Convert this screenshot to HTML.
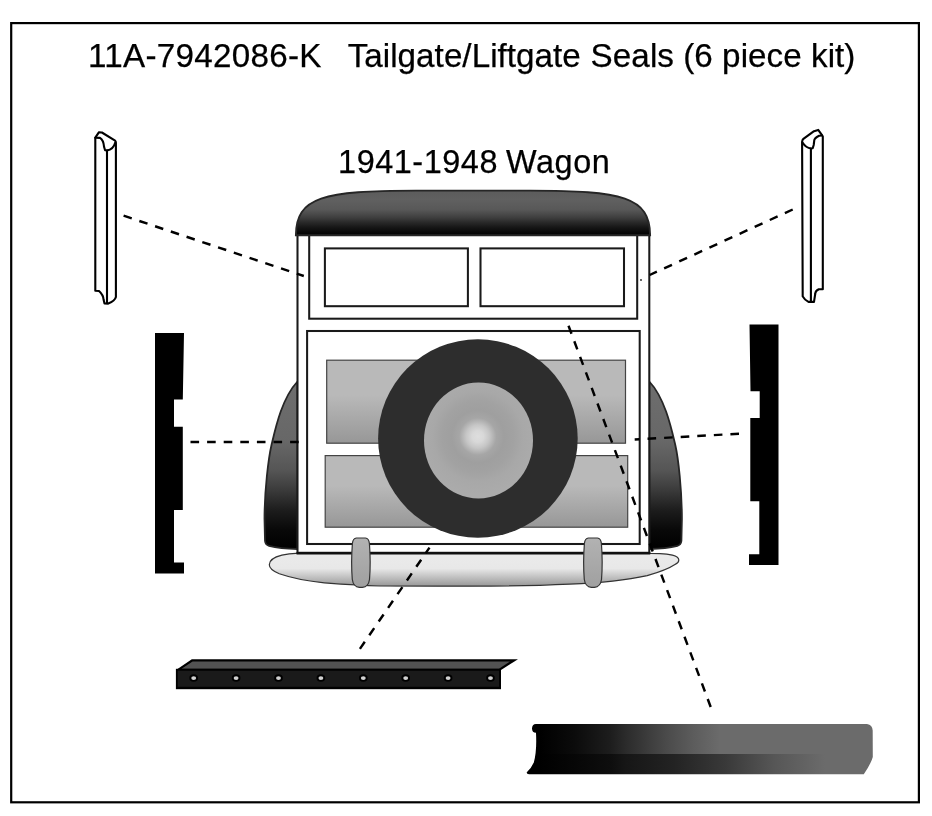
<!DOCTYPE html>
<html>
<head>
<meta charset="utf-8">
<title>11A-7942086-K Tailgate/Liftgate Seals (6 piece kit)</title>
<style>
html,body{margin:0;padding:0;background:#fff;}
body{width:932px;height:816px;overflow:hidden;}
svg{display:block;will-change:transform;}
text{font-family:"Liberation Sans",Arial,Helvetica,sans-serif;fill:#000;stroke:#000;stroke-width:0.25px;}
</style>
</head>
<body>
<svg width="932" height="816" viewBox="0 0 932 816">
<defs>
  <linearGradient id="gRoof" gradientUnits="userSpaceOnUse" x1="0" y1="190" x2="0" y2="236">
    <stop offset="0" stop-color="#5c5c5c"/>
    <stop offset="0.22" stop-color="#606060"/>
    <stop offset="0.43" stop-color="#585858"/>
    <stop offset="0.6" stop-color="#3e3e3e"/>
    <stop offset="0.7" stop-color="#2a2a2a"/>
    <stop offset="0.82" stop-color="#151515"/>
    <stop offset="0.92" stop-color="#080808"/>
    <stop offset="1" stop-color="#000"/>
  </linearGradient>
  <linearGradient id="gPanel" x1="0" y1="0" x2="0" y2="1">
    <stop offset="0" stop-color="#b9b9b9"/>
    <stop offset="0.42" stop-color="#b9b9b9"/>
    <stop offset="1" stop-color="#979797"/>
  </linearGradient>
  <linearGradient id="gFender" gradientUnits="userSpaceOnUse" x1="0" y1="382" x2="0" y2="549">
    <stop offset="0" stop-color="#6e6e6e"/>
    <stop offset="0.36" stop-color="#676767"/>
    <stop offset="0.53" stop-color="#555"/>
    <stop offset="0.65" stop-color="#3a3a3a"/>
    <stop offset="0.77" stop-color="#1c1c1c"/>
    <stop offset="0.89" stop-color="#080808"/>
    <stop offset="1" stop-color="#000"/>
  </linearGradient>
  <linearGradient id="gBumper" gradientUnits="userSpaceOnUse" x1="0" y1="553" x2="0" y2="586">
    <stop offset="0" stop-color="#ebebeb"/>
    <stop offset="0.47" stop-color="#e8e8e8"/>
    <stop offset="1" stop-color="#999"/>
  </linearGradient>
  <linearGradient id="gGuard" x1="0" y1="0" x2="0" y2="1">
    <stop offset="0" stop-color="#b2b2b2"/>
    <stop offset="1" stop-color="#a0a0a0"/>
  </linearGradient>
  <radialGradient id="gHub" gradientUnits="userSpaceOnUse" cx="477.8" cy="436.5" r="58">
    <stop offset="0" stop-color="#dedede"/>
    <stop offset="0.1" stop-color="#d8d8d8"/>
    <stop offset="0.2" stop-color="#c6c6c6"/>
    <stop offset="0.32" stop-color="#a6a6a6"/>
    <stop offset="0.45" stop-color="#9f9f9f"/>
    <stop offset="0.62" stop-color="#a2a2a2"/>
    <stop offset="0.78" stop-color="#a8a8a8"/>
    <stop offset="1" stop-color="#ababab"/>
  </radialGradient>
  <linearGradient id="gStripTop" gradientUnits="userSpaceOnUse" x1="540" y1="0" x2="720" y2="0">
    <stop offset="0" stop-color="#000"/>
    <stop offset="0.19" stop-color="#0b0b0b"/>
    <stop offset="0.39" stop-color="#1d1d1d"/>
    <stop offset="0.47" stop-color="#2a2a2a"/>
    <stop offset="0.7" stop-color="#4a4a4a"/>
    <stop offset="0.85" stop-color="#5c5c5c"/>
    <stop offset="1" stop-color="#6b6b6b"/>
  </linearGradient>
  <linearGradient id="gStripBot" gradientUnits="userSpaceOnUse" x1="540" y1="0" x2="825" y2="0">
    <stop offset="0" stop-color="#000"/>
    <stop offset="0.25" stop-color="#0e0e0e"/>
    <stop offset="0.3" stop-color="#161616"/>
    <stop offset="0.47" stop-color="#232323"/>
    <stop offset="0.65" stop-color="#393939"/>
    <stop offset="0.82" stop-color="#565656"/>
    <stop offset="1" stop-color="#6b6b6b"/>
  </linearGradient>
</defs>

<rect x="0" y="0" width="932" height="816" fill="#fff"/>

<!-- frame -->
<rect id="frame" x="11.2" y="23.1" width="907.7" height="779.2" fill="none" stroke="#000" stroke-width="2.2"/>

<!-- headings -->
<text id="title" y="66.6" font-size="33.2"><tspan x="87.99" style="letter-spacing:0.284px">11A-7942086-K</tspan> <tspan x="347.68" style="letter-spacing:0.039px">Tailgate/Liftgate</tspan> <tspan x="590.54" style="letter-spacing:0.105px">Seals</tspan> <tspan x="683.23" style="letter-spacing:0.055px">(6 piece kit)</tspan></text>
<text id="subtitle" y="172.8" font-size="32.4"><tspan x="338.11" style="letter-spacing:0.551px">1941-1948</tspan> <tspan x="506.03" style="letter-spacing:0.594px">Wagon</tspan></text>

<!-- fenders -->
<path id="fenderL" d="M297.5 381.5 C282 398 275.5 428 271.5 445 C268.5 458 264.5 490 264.5 519 L265 541 Q265.5 545 269 545.8 Q280 548.6 297.5 549 Z" fill="url(#gFender)" stroke="#262626" stroke-width="1.8"/>
<path id="fenderR" d="M649.3 381.5 C664.8 398 671.3 428 675.3 445 C678.3 458 681.9 490 681.9 519 L681.4 541 Q680.9 545 677.4 545.8 Q666.4 548.6 649.3 549 Z" fill="url(#gFender)" stroke="#262626" stroke-width="1.8"/>

<!-- body -->
<g fill="#fff" stroke="#1a1a1a" stroke-width="2.05">
<rect id="body" x="297.5" y="234" width="351.8" height="318.8"/>
<rect id="winframe" x="309.2" y="234" width="328" height="84.7"/>
<rect id="winL" x="324.9" y="248.4" width="143" height="57.8"/>
<rect id="winR" x="480.5" y="248.4" width="143.5" height="57.8"/>
<rect id="gate" x="307.1" y="331" width="332.6" height="213"/>
</g>
<rect id="panelT" x="326.7" y="360.2" width="298.8" height="83" fill="url(#gPanel)" stroke="#444" stroke-width="1.2"/>
<rect id="panelB" x="325.2" y="455.6" width="302.5" height="71.6" fill="url(#gPanel)" stroke="#444" stroke-width="1.2"/>

<!-- roof -->
<path id="roof" d="M295.9 235.2 C296.1 197.2 323 190.6 416 190.6 L530 190.6 C623 190.6 649.9 197.2 650.1 235.2 Z" fill="url(#gRoof)" stroke="#262626" stroke-width="1.9"/>

<!-- spare tire -->
<ellipse id="tire" cx="477.9" cy="438.5" rx="99.8" ry="99.2" fill="#2d2d2d"/>
<ellipse id="hub" cx="478.5" cy="440.5" rx="54.5" ry="57.9" fill="url(#gHub)"/>

<!-- bumper -->
<path id="bumper" d="M296 553.3 L650 553.5 L660 553.6 C668 553.8 678.8 555.5 678.8 559.9 C678.8 562 677.5 563.2 675.6 564.1 C672 566.5 667 570 647.2 575.7 C630 579.5 600 583 570 584.1 C540 585.5 500 586.2 470 586.2 C440 586.2 400 586.3 380 586 C365 585.6 340 584 324.4 582.8 C310 581.5 290 577.5 279.3 573.8 C273 571.2 269.3 567.5 269.3 564.8 C269.3 560.5 274 557 281.9 555.1 C287 553.9 292 553.3 296 553.3 Z" fill="url(#gBumper)" stroke="#333" stroke-width="1.2"/>
<line x1="296.5" y1="553.2" x2="650.3" y2="553.2" stroke="#111" stroke-width="2.6"/>
<path id="guardL" d="M356.4 538 L365.4 538 Q368.9 538.3 369.4 543.5 Q370.9 563 369.5 579.5 Q368.5 586.8 362.4 587.4 L359.4 587.4 Q353.3 586.8 352.3 579.5 Q350.9 563 352.4 543.5 Q352.9 538.3 356.4 538 Z" fill="url(#gGuard)" stroke="#333" stroke-width="1.2"/>
<path id="guardR" d="M588.4 538 L597.4 538 Q600.9 538.3 601.4 543.5 Q602.9 563 601.5 579.5 Q600.5 586.8 594.4 587.4 L591.4 587.4 Q585.3 586.8 584.3 579.5 Q582.9 563 584.4 543.5 Q584.9 538.3 588.4 538 Z" fill="url(#gGuard)" stroke="#333" stroke-width="1.2"/>

<!-- leader lines -->
<g fill="none" stroke="#000" stroke-width="2.45" stroke-dasharray="8.6 8">
  <line x1="123.6" y1="215.7" x2="303.8" y2="276"/>
  <line x1="792.7" y1="209.5" x2="649.7" y2="275"/>
  <line x1="190.5" y1="442" x2="299" y2="442"/>
  <line x1="739" y1="433.7" x2="634.7" y2="439.5"/>
  <line x1="429.5" y1="547.6" x2="359.5" y2="649.5" stroke-dashoffset="1.9"/>
  <line x1="568.5" y1="325.7" x2="710.7" y2="707"/>
</g>
<circle cx="641" cy="280" r="0.9" fill="#222"/>

<!-- upper side seals -->
<g id="sealTL" fill="#fff" stroke="#000" stroke-width="2.1" stroke-linejoin="round" stroke-linecap="round">
  <path d="M95.3 290.7 L95.3 137.7 L99 132.2 L101.9 132.5 L115.1 140.6 Q115.9 141.5 115.9 143 L115.9 297.1 Q114.8 301.2 108.3 303.6 L104.5 303.5 L103.5 299.3 Q103.2 294.8 99 291 L95.3 290.7 Z"/>
  <path d="M95.3 137.7 L100 137.9 Q103.5 140 104.1 147 L105.1 150.3 L107 150.5 Q113.3 149.6 115.3 142.5" fill="none"/>
  <path d="M107 150.3 L107 303" fill="none"/>
</g>
<g id="sealTR" fill="#fff" stroke="#000" stroke-width="2.1" stroke-linejoin="round" stroke-linecap="round">
  <path d="M802.1 141.8 Q802.3 139.8 803.4 138.9 L814 131.2 L818.2 129.9 L822 135.1 L822.8 136.5 L822.8 289.3 L818.8 289.3 Q815.3 291 815.3 293.5 L814 301.9 L808.5 301.9 Q804.3 299.6 802.7 296.4 Z"/>
  <path d="M822 135.5 L819.1 135.7 Q814.6 138 814.3 140.2 L813.7 145 L812.7 148.3 L811 148.5 Q806 148 802.5 142.5" fill="none"/>
  <path d="M810.9 148.6 L810.9 301.9" fill="none"/>
</g>

<!-- black side seals -->
<path id="sealML" d="M155 333 L184 333 L182.8 399.5 L174 399.5 L174 426.7 L182.8 426.7 L182.8 510 L174 510 L174 562.5 L184 562.5 L184 573.5 L155 573.5 Z" fill="#000"/>
<path id="sealMR" d="M778.5 324.5 L749.5 324.5 L750.5 391.2 L759.7 391.2 L759.7 418 L750.3 418 L750.3 501.2 L759.3 501.2 L759.3 554.2 L749 554.2 L749 565 L778.5 565 Z" fill="#000"/>

<!-- bottom drilled strip -->
<g id="strip">
  <path d="M176 670 L191.8 659.2 L518 659.2 L501 670 Z" fill="#000"/>
  <path d="M181.5 668.8 L192.6 661.6 L510 661.6 L499 668.8 Z" fill="#525252"/>
  <rect x="175.9" y="668.8" width="325.1" height="20.4" fill="#000"/>
  <rect x="177.7" y="670.7" width="321.4" height="16.1" fill="#1a1a1a"/>
  <g fill="#d2d2d2" stroke="#000" stroke-width="1.9">
    <ellipse cx="193.7" cy="678.1" rx="3.4" ry="2.8"/>
    <ellipse cx="236.1" cy="678.1" rx="3.4" ry="2.8"/>
    <ellipse cx="278.5" cy="678.1" rx="3.4" ry="2.8"/>
    <ellipse cx="320.9" cy="678.1" rx="3.4" ry="2.8"/>
    <ellipse cx="363.3" cy="678.1" rx="3.4" ry="2.8"/>
    <ellipse cx="405.7" cy="678.1" rx="3.4" ry="2.8"/>
    <ellipse cx="448.1" cy="678.1" rx="3.4" ry="2.8"/>
    <ellipse cx="490.5" cy="678.1" rx="3.4" ry="2.8"/>
  </g>
</g>

<!-- bottom rubber seal -->
<g id="rubber">
  <clipPath id="cRubber"><path d="M536 723.9 L867 723.9 Q872.4 724.6 872.7 730.5 L872.8 757 Q871.3 763 863.8 774.3 L529 774.3 Q526.3 774.3 526.8 772.2 Q531.5 768 533.8 762.6 Q535 758 535.6 752.9 Q536.6 745 536 732.8 Q532 732.7 532 728.5 Q532 724 536 723.9 Z"/></clipPath>
  <g clip-path="url(#cRubber)">
    <rect x="520" y="720" width="360" height="34" fill="url(#gStripTop)"/>
    <rect x="520" y="754" width="360" height="24" fill="url(#gStripBot)"/>
  </g>
</g>
</svg>
</body>
</html>
